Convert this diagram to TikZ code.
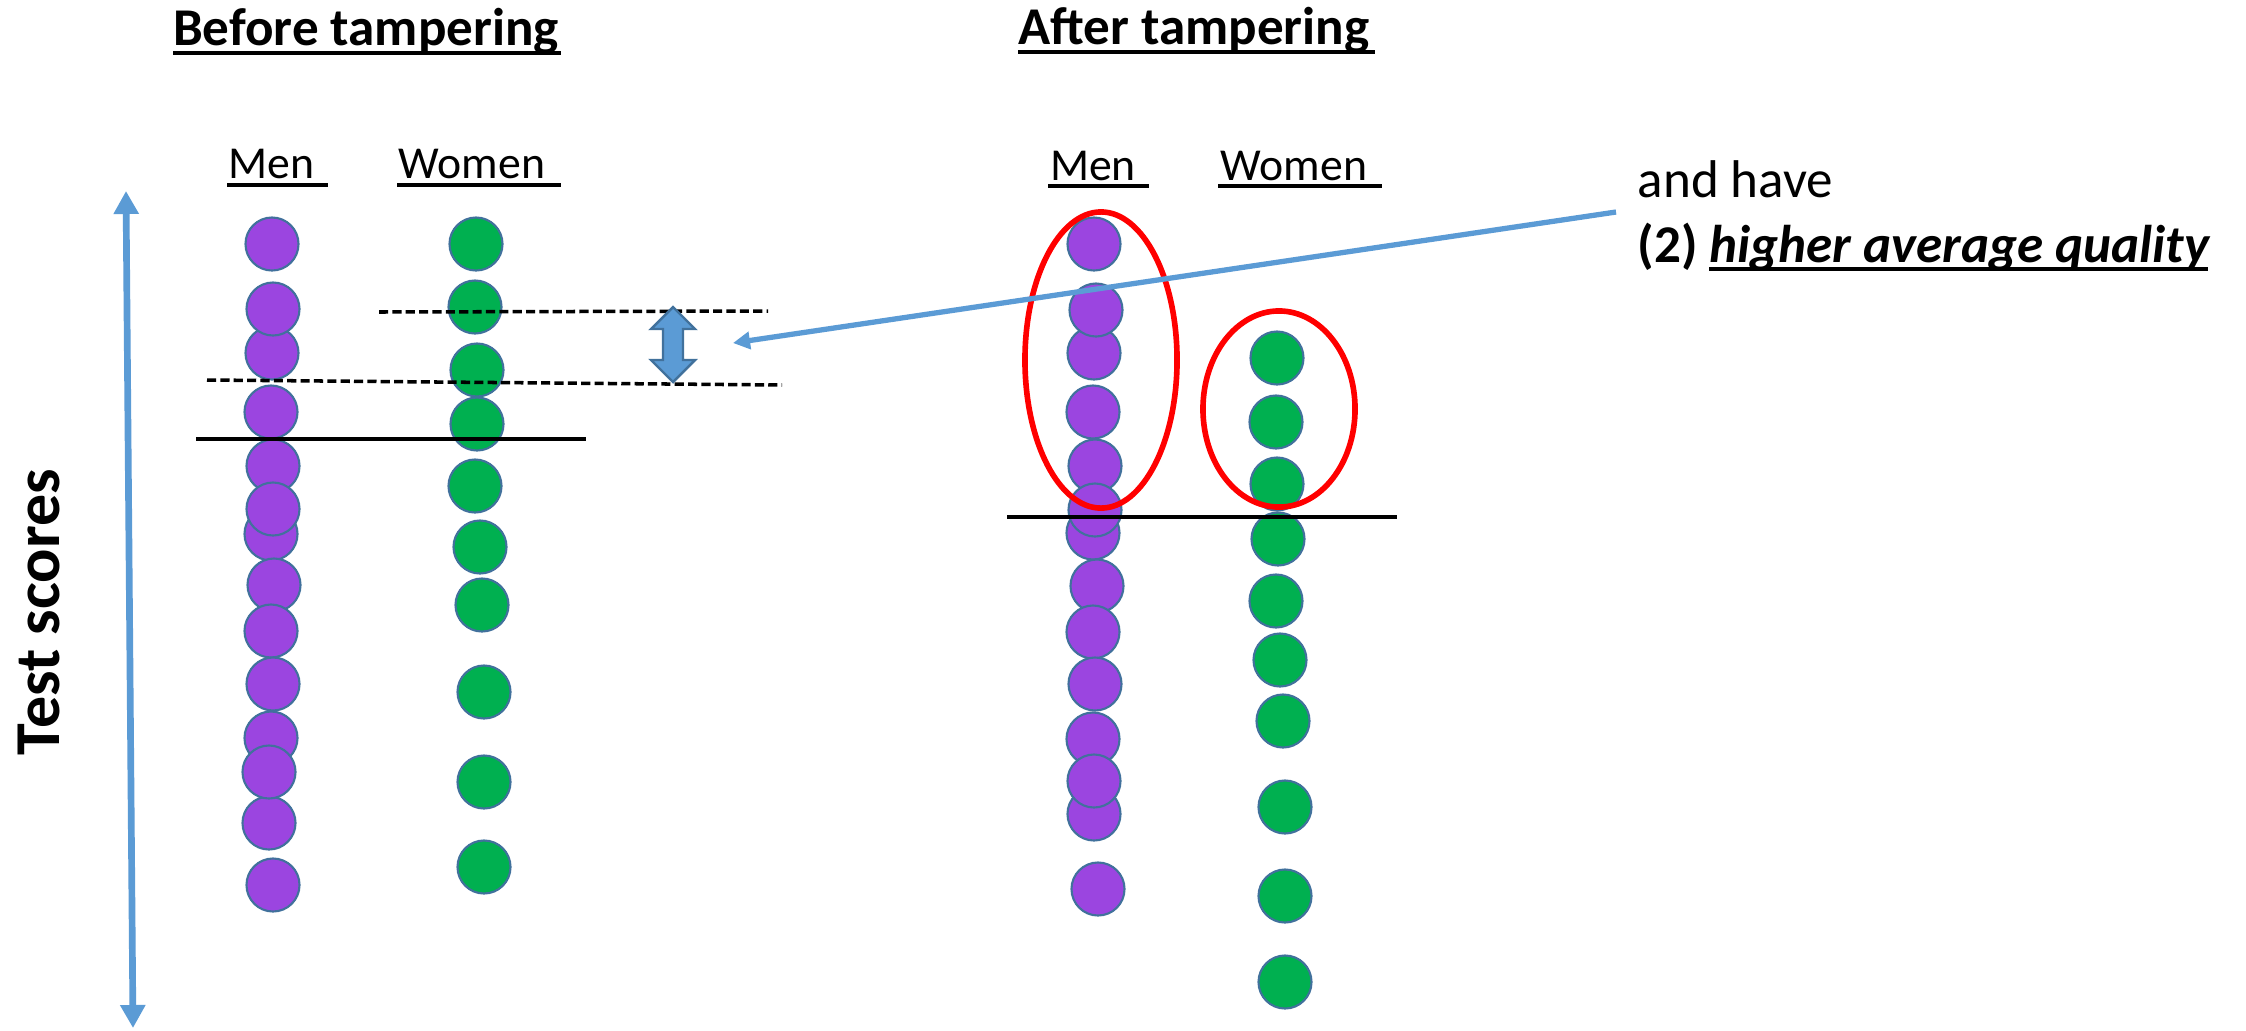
\documentclass[tikz,border=0pt]{standalone}
\usepackage{fontspec}
\setmainfont{Carlito}
\usetikzlibrary{arrows.meta,shapes.geometric}
\definecolor{mpurple}{RGB}{155,69,224}
\definecolor{mgreen}{RGB}{0,176,80}
\definecolor{edgeblue}{RGB}{65,113,156}
\definecolor{lightblue}{RGB}{91,155,213}
\tikzset{
  mcirc/.style={circle, draw=edgeblue, line width=0.6pt, fill=mpurple, minimum size=0.53cm, inner sep=0pt},
  wcirc/.style={circle, draw=edgeblue, line width=0.6pt, fill=mgreen, minimum size=0.53cm, inner sep=0pt},
  titletext/.style={font=\fontsize{15.1}{18}\selectfont\bfseries, anchor=base, inner sep=0pt},
  grptext/.style={font=\fontsize{13}{15}\selectfont, anchor=base, inner sep=0pt},
  titleline/.style={black, line width=1.2pt},
  grpline/.style={black, line width=0.95pt},
  cutline/.style={black, line width=1.35pt},
  dashline/.style={black, line width=1pt, dash pattern=on 2.6pt off 1.2pt},
  ring/.style={ellipse, draw=red, line width=1.6pt, inner sep=0pt},
  pointer/.style={lightblue, line width=1.5pt, -{Triangle[length=0.17cm,width=0.17cm]}},
  axis/.style={lightblue, line width=1.9pt, {Triangle[length=0.23cm,width=0.24cm]}-{Triangle[length=0.23cm,width=0.24cm]}}
}
\begin{document}
\begin{tikzpicture}[x=0.01cm,y=-0.01cm]
\useasboundingbox[fill=white] (0,0) rectangle (2246,1030);

% titles
\node[titletext] (tb) at (366,45) {Before tampering};
\draw[titleline] (173,53) -- (561,53);
\node[titletext] (ta) at (1194,44) {After tampering};
\draw[titleline] (1018,52) -- (1375,52);

% group labels
\node[grptext] (bmen) at (271.5,178) {Men};
\draw[grpline] (227,185) -- (328,185);
\node[grptext] (bwom) at (472,178) {Women};
\draw[grpline] (397,185) -- (561,185);
\node[grptext] (amen) at (1093,180) {Men};
\draw[grpline] (1048,186) -- (1149,186);
\node[grptext] (awom) at (1294,180) {Women};
\draw[grpline] (1218,186) -- (1382,186);

% axis
\node[rotate=90, inner sep=0pt, font=\fontsize{18.2}{22}\selectfont\bfseries] (ylab) at (39,612) {Test scores};
\coordinate (axtop) at (126,191);
\coordinate (axbot) at (133,1028);
\draw[axis] (axbot) -- (axtop);

% before: men
\node[mcirc] (bm1) at (272,244) {};
\node[mcirc] (bm3) at (272,353) {};
\node[mcirc] (bm2) at (273,309) {};
\node[mcirc] (bm4) at (271,412) {};
\node[mcirc] (bm5) at (273,466) {};
\node[mcirc] (bm7) at (271,534) {};
\node[mcirc] (bm6) at (273,509) {};
\node[mcirc] (bm8) at (274,585) {};
\node[mcirc] (bm9) at (271,631) {};
\node[mcirc] (bm10) at (273,684) {};
\node[mcirc] (bm11) at (271,738) {};
\node[mcirc] (bm13) at (269,823) {};
\node[mcirc] (bm12) at (269,772) {};
\node[mcirc] (bm14) at (273,885) {};
% before: women
\node[wcirc] (bw1) at (476,244) {};
\node[wcirc] (bw2) at (475,307) {};
\node[wcirc] (bw3) at (477,370) {};
\node[wcirc] (bw4) at (477,424) {};
\node[wcirc] (bw5) at (475,486) {};
\node[wcirc] (bw6) at (480,547) {};
\node[wcirc] (bw7) at (482,605) {};
\node[wcirc] (bw8) at (484,692) {};
\node[wcirc] (bw9) at (484,782) {};
\node[wcirc] (bw10) at (484,867) {};

% before: lines
\coordinate (cbL) at (196,439); \coordinate (cbR) at (586,439);
\draw[cutline] (cbL) -- (cbR);
\coordinate (dAL) at (379,312); \coordinate (dAR) at (768,311);
\draw[dashline] (dAL) -- (dAR);
\coordinate (dBL) at (207,380); \coordinate (dBR) at (782,385);
\draw[dashline] (dBL) -- (dBR);

% double block arrow
\draw[fill=lightblue, draw=edgeblue, line width=0.7pt, line join=miter]
  (673,307) -- (695,329) -- (683,329) -- (683,360) -- (695,360) -- (673,382)
  -- (651,360) -- (663,360) -- (663,329) -- (651,329) -- cycle;

% after: men
\node[mcirc] (am1) at (1094,244) {};
\node[mcirc] (am3) at (1094,353) {};
\node[mcirc] (am2) at (1096,310) {};
\node[mcirc] (am4) at (1093,412) {};
\node[mcirc] (am5) at (1095,466) {};
\node[mcirc] (am7) at (1093,533) {};
\node[mcirc] (am6) at (1095,510) {};
\node[mcirc] (am8) at (1097,586) {};
\node[mcirc] (am9) at (1093,632) {};
\node[mcirc] (am10) at (1095,684) {};
\node[mcirc] (am11) at (1093,739) {};
\node[mcirc] (am13) at (1094,814) {};
\node[mcirc] (am12) at (1094,781) {};
\node[mcirc] (am14) at (1098,889) {};
% after: women
\node[wcirc] (aw1) at (1277,358) {};
\node[wcirc] (aw2) at (1276,422) {};
\node[wcirc] (aw3) at (1277,484) {};
\node[wcirc] (aw4) at (1278,539) {};
\node[wcirc] (aw5) at (1276,601) {};
\node[wcirc] (aw6) at (1280,660) {};
\node[wcirc] (aw7) at (1283,721) {};
\node[wcirc] (aw8) at (1285,807) {};
\node[wcirc] (aw9) at (1285,896) {};
\node[wcirc] (aw10) at (1285,982) {};

% after: line and rings
\coordinate (caL) at (1007,517); \coordinate (caR) at (1397,517);
\draw[cutline] (caL) -- (caR);
\node[ring, minimum width=1.52cm, minimum height=2.96cm] (ringM) at (1101,360) {};
\node[ring, minimum width=1.52cm, minimum height=1.96cm] (ringW) at (1279,409) {};

% annotation
\node[anchor=base west, inner sep=0pt, font=\fontsize{15.1}{18}\selectfont] (note1) at (1637,197) {and have};
\node[anchor=base west, inner sep=0pt, font=\fontsize{15.1}{18}\selectfont\bfseries] (note2) at (1637,262) {(2) \textit{higher average quality}};
\draw[black, line width=1.05pt] (1709,269) -- (2208,269);
\coordinate (ptrS) at (1616,212);
\coordinate (ptrE) at (733,343);
\draw[pointer] (ptrS) -- (ptrE);
\end{tikzpicture}
\end{document}
